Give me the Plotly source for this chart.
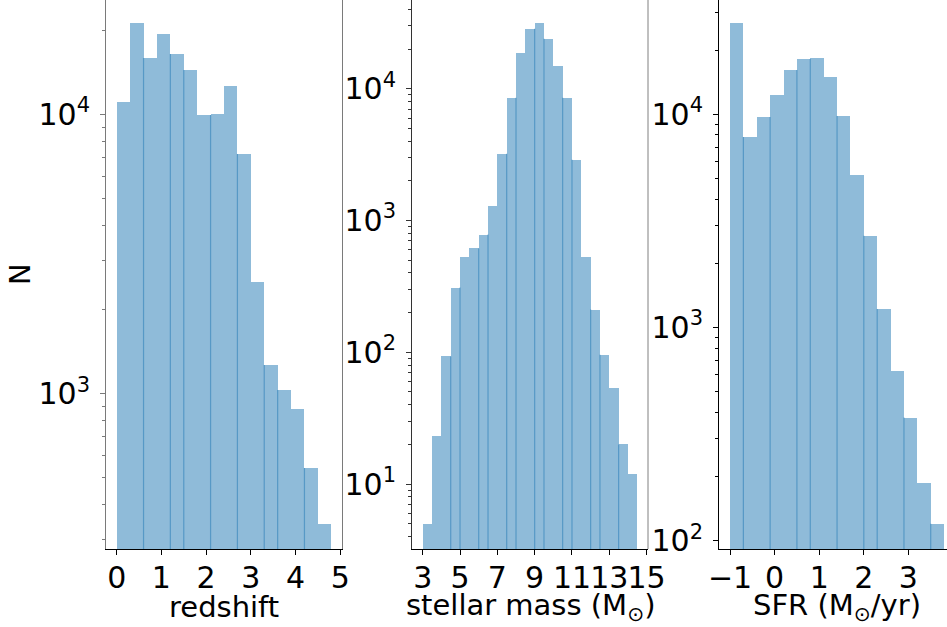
import plotly.graph_objects as go

# ---- histogram data: bin edges and counts per bin ----
z_edges = [0.0, 0.3, 0.6, 0.9, 1.2, 1.5, 1.8, 2.1, 2.4, 2.7, 3.0, 3.3, 3.6, 3.9, 4.2, 4.5, 4.8]
z_counts = [11070, 21200, 15900, 19370, 16440, 14410, 9940, 10030, 12630, 7210,
            2510, 1267, 1031, 881, 542, 342]

m_edges = [3.0, 3.5, 4.0, 4.5, 5.0, 5.5, 6.0, 6.5, 7.0, 7.5, 8.0, 8.5, 9.0, 9.5, 10.0,
           10.5, 11.0, 11.5, 12.0, 12.5, 13.0, 13.5, 14.0, 14.5]
m_counts = [5, 23, 93, 310, 533, 614, 783, 1300, 3220, 8550, 18840, 28500, 31700,
            24000, 14950, 8550, 2900, 533, 211, 96, 54, 20, 12]

s_edges = [-1.0, -0.7, -0.4, -0.1, 0.2, 0.5, 0.8, 1.1, 1.4, 1.7, 2.0, 2.3, 2.6, 2.9,
           3.2, 3.5, 3.8]
s_counts = [26800, 7830, 9710, 12320, 16140, 18170, 18370, 14960, 9820, 5190,
            2690, 1222, 627, 378, 187, 120]

# bin edges where neighbouring translucent bars overlap by a sliver
z_seams = [2, 4, 5, 7, 9, 11, 12, 14]
m_seams = [3, 4, 6, 7, 9, 10, 12, 13, 15, 16, 18, 19, 21]
s_seams = [1, 3, 5, 6, 8, 10, 11, 13, 15]

# axis labels and ticks
z_label = "redshift"
m_label = "stellar mass (M<sub>⊙</sub>)"
s_label = "SFR (M<sub>⊙</sub>/yr)"
y_label = "N"
z_ticks = [0, 1, 2, 3, 4, 5]
m_ticks = [3, 5, 7, 9, 11, 13, 15]
s_ticks = [-1, 0, 1, 2, 3]

W, H = 947, 627
FONT = "DejaVu Sans"
BAR = "rgba(31,119,180,0.5)"
TICK_SIZE = 30
LABEL_SIZE = 29


def px(p):
    return p / W


def py(p):
    return 1 - p / H


fig = go.Figure()


def add_hist(edges, counts, seams, xa, ya):
    centers = [(a + b) / 2 for a, b in zip(edges[:-1], edges[1:])]
    widths = [b - a for a, b in zip(edges[:-1], edges[1:])]
    fig.add_trace(go.Bar(x=centers, y=counts, width=widths, marker=dict(color=BAR, line=dict(width=0)),
                         xaxis=xa, yaxis=ya, showlegend=False, hoverinfo="skip"))
    sx, sy = [], []
    for k in seams:
        top = min(counts[k - 1], counts[k])
        sx += [edges[k], edges[k], None]
        sy += [1e-3, top, None]
    fig.add_trace(go.Scatter(x=sx, y=sy, mode="lines", line=dict(color=BAR, width=1.2),
                             xaxis=xa, yaxis=ya, showlegend=False, hoverinfo="skip"))


add_hist(z_edges, z_counts, z_seams, "x", "y")
add_hist(m_edges, m_counts, m_seams, "x2", "y2")
add_hist(s_edges, s_counts, s_seams, "x3", "y3")


def minor_vals(lo, hi):
    vals = []
    d = 10 ** lo
    while d < 10 ** hi:
        for m in range(2, 10):
            v = m * d
            if 10 ** lo < v < 10 ** hi:
                vals.append(v)
        d *= 10
    return vals


def fmt_tick(v):
    return str(v).replace("-", "−")


def xaxis(domain, rng, ticks, anchor):
    return dict(domain=domain, range=rng, tickmode="array", tickvals=ticks,
                ticktext=[fmt_tick(t) for t in ticks], tickangle=0, automargin=False,
                ticks="outside", ticklen=5, tickwidth=1, tickcolor="black",
                showline=True, linecolor="black", linewidth=1, showgrid=False,
                zeroline=False, anchor=anchor, ticklabelstandoff=-3,
                tickfont=dict(family=FONT, size=TICK_SIZE, color="black"))


def yaxis(rng, decades, anchor, color, mirror):
    return dict(type="log", domain=[(H - 549) / H, 1], range=rng, automargin=False,
                tickmode="array", tickvals=[10 ** d for d in decades],
                ticktext=["10<sup>%d</sup>" % d for d in decades],
                ticks="outside", ticklen=5, tickwidth=1, tickcolor=color,
                minor=dict(tickmode="array", tickvals=minor_vals(int(rng[0]), int(rng[1]) + 1),
                           ticks="outside", ticklen=3, tickwidth=1, tickcolor=color),
                showline=True, linecolor=color, linewidth=1, mirror=mirror,
                showgrid=False, zeroline=False, anchor=anchor, ticklabelstandoff=4,
                tickfont=dict(family=FONT, size=TICK_SIZE, color="black"))


fig.update_layout(
    width=W, height=H, margin=dict(l=0, r=0, t=0, b=0, autoexpand=False),
    plot_bgcolor="white", paper_bgcolor="white", bargap=0,
    xaxis=xaxis([px(106), px(342)], [-0.24, 5.04], z_ticks, "y"),
    xaxis2=xaxis([px(412), px(648)], [2.425, 15.075], m_ticks, "y2"),
    xaxis3=xaxis([px(719), 1.0], [-1.2466, 3.865], s_ticks, "y3"),
    yaxis=yaxis([2.4442, 4.409], [3, 4], "x", "#7a7a7a", True),
    yaxis2=yaxis([0.507, 4.674], [1, 2, 3, 4], "x2", "#333333", False),
    yaxis3=yaxis([1.961, 4.536], [2, 3, 4], "x3", "black", False),
)

# right-hand spine of the middle panel
fig.add_shape(type="line", xref="x2 domain", yref="y2 domain", x0=1, x1=1, y0=0, y1=1,
              line=dict(color="#808080", width=1))

lab = dict(family=FONT, size=LABEL_SIZE, color="black")
fig.add_annotation(text=y_label, x=px(20), y=py(274), xref="paper", yref="paper",
                   showarrow=False, textangle=-90, font=lab, xanchor="center", yanchor="middle")
for txt, cx in [(z_label, 224), (m_label, 530), (s_label, 837)]:
    fig.add_annotation(text=txt, x=px(cx), y=py(607), xref="paper", yref="paper",
                       showarrow=False, font=lab, xanchor="center", yanchor="middle")

fig.write_html("out.html")
